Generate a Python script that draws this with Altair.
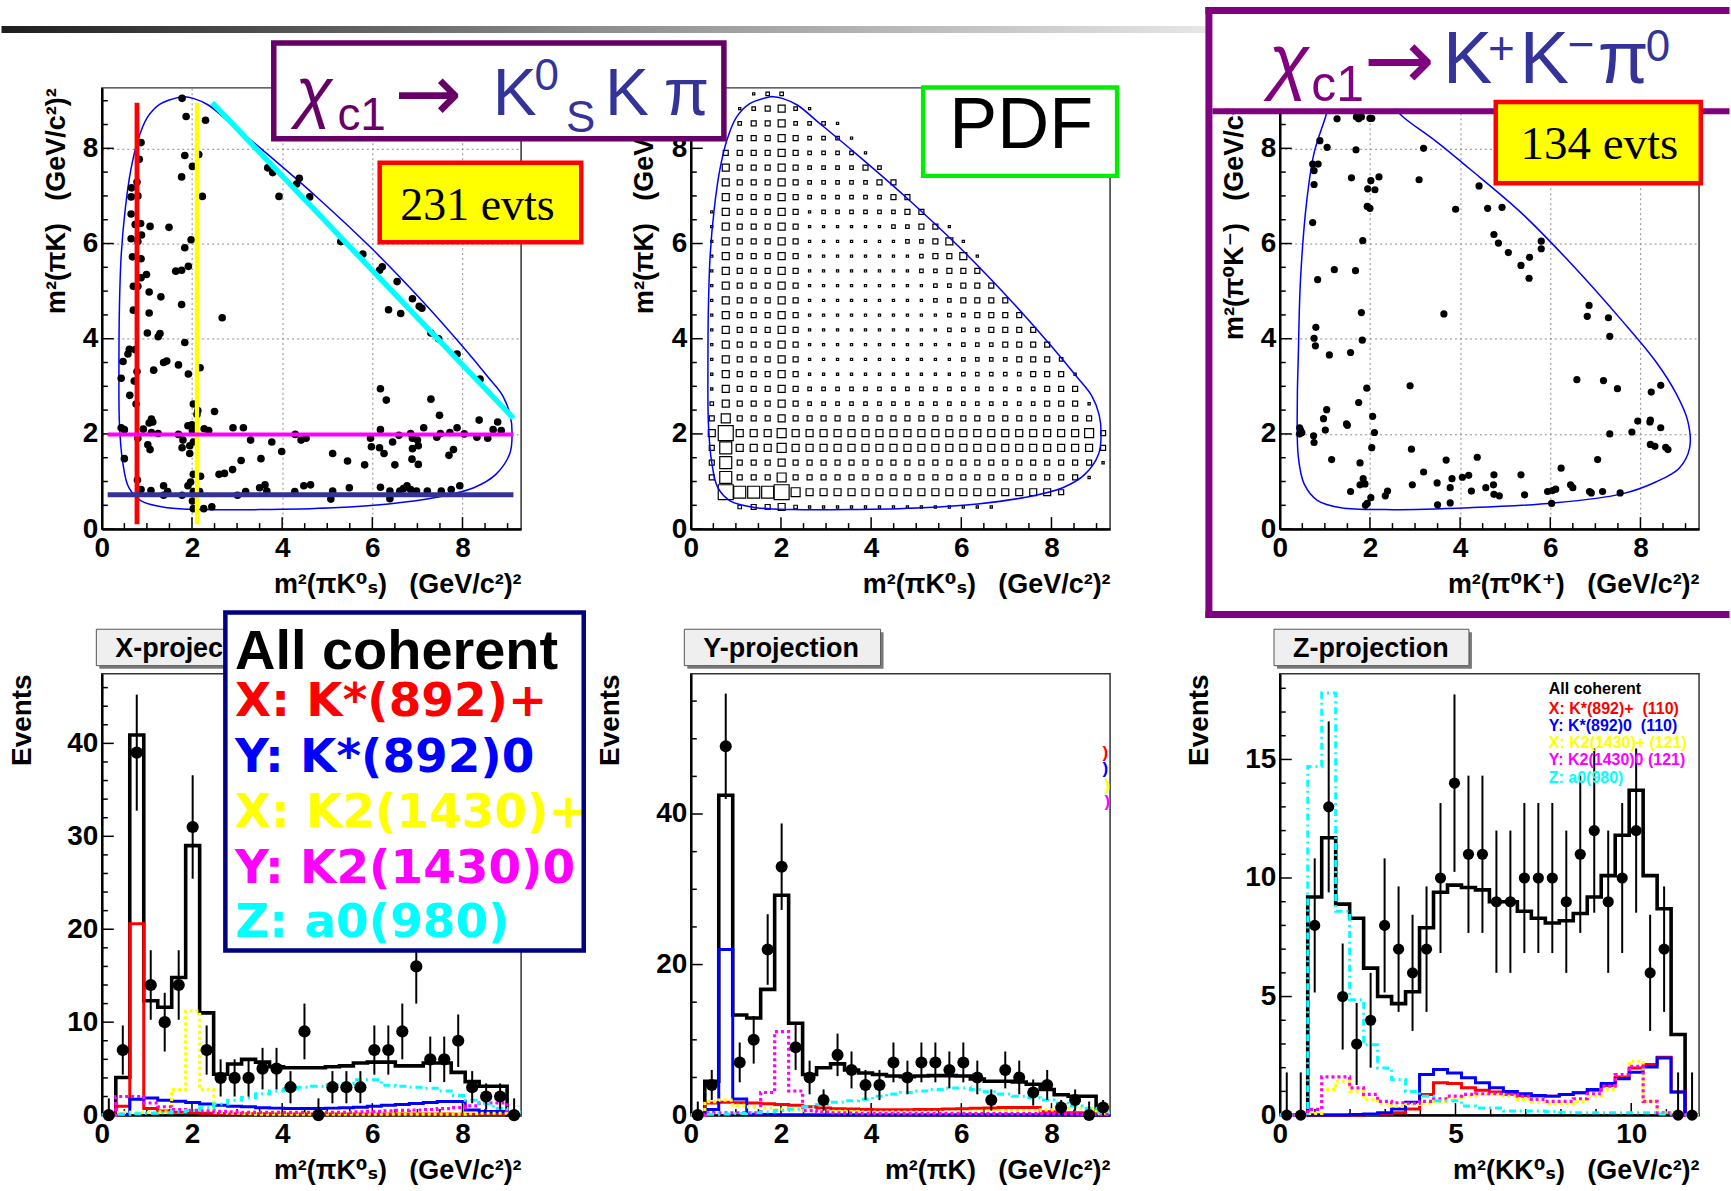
import altair as alt
import numpy as np
import pandas as pd

SANS = "Liberation Sans, DejaVu Sans, sans-serif"
WIDE = "DejaVu Sans, sans-serif"
SERIF = "Liberation Serif, serif"
NB2 = "\u00a0\u00a0\u00a0"   # wide gap kept inside axis titles

W, H = 420, 442        # plot area of every panel (px)
XY_MAX = 9.3           # m^2 range of the K pi combinations
Z_MAX = 11.93          # m^2 range of the K K combination
NB = 30                # bins per projection / PDF grid

# ---------------- chi_c1 -> K0S K pi : Dalitz-plot events ----------------
ks_events = [
    (1.78, 9.05), (1.87, 8.67), (2.30, 8.59), (0.87, 8.12), (0.83, 7.77), (1.84, 7.85), (2.15, 7.87),
    (2.01, 7.62), (1.77, 7.40), (2.23, 6.99), (0.78, 7.29), (0.66, 7.17), (0.65, 6.98), (0.80, 7.00),
    (0.65, 6.62), (0.74, 6.40), (0.86, 6.42), (1.07, 6.36), (1.49, 6.34), (0.65, 6.10), (0.88, 6.18),
    (0.80, 6.04), (1.98, 6.08), (1.84, 5.91), (0.68, 5.72), (0.87, 5.68), (0.99, 5.35), (0.87, 5.28),
    (0.80, 5.10), (0.70, 5.10), (1.64, 5.42), (1.77, 5.44), (1.92, 5.52), (1.05, 4.98), (1.31, 4.88),
    (1.77, 4.72), (0.70, 4.60), (1.05, 4.54), (2.67, 4.44), (1.01, 4.12), (1.29, 4.11), (1.25, 4.04),
    (1.84, 3.92), (0.47, 3.52), (0.58, 3.68), (0.61, 3.78), (0.74, 3.77), (1.37, 3.50), (1.44, 3.53),
    (1.70, 3.45), (1.15, 3.34), (0.78, 3.31), (1.92, 3.26), (2.18, 3.39), (0.43, 3.17), (0.72, 3.11),
    (0.62, 2.81), (0.76, 2.63), (2.03, 2.63), (2.13, 2.49), (2.11, 2.41), (2.50, 2.47), (6.18, 2.95),
    (6.31, 2.71), (7.30, 2.73), (7.49, 2.39), (8.37, 2.29), (8.78, 2.25),
    (0.43, 2.13), (0.50, 2.09), (1.10, 2.31), (1.13, 2.25), (1.05, 2.23), (0.92, 2.10), (0.80, 1.91),
    (1.10, 2.03), (1.25, 2.01), (1.70, 1.99), (1.91, 2.17), (2.00, 2.19), (2.01, 2.07), (2.27, 2.11),
    (2.37, 2.07), (2.91, 2.13), (3.14, 2.13), (3.30, 1.87), (3.77, 1.83), (4.29, 1.99), (4.42, 1.87),
    (4.53, 1.91), (5.96, 1.91), (5.98, 1.73), (6.18, 2.09), (6.16, 1.71), (6.26, 1.59), (6.45, 1.83),
    (6.59, 1.97), (6.85, 2.01), (6.89, 1.91), (7.00, 1.87), (6.89, 1.69), (7.02, 1.75), (7.14, 2.13),
    (7.43, 1.93), (7.51, 2.01), (7.72, 2.03), (7.88, 2.13), (7.80, 1.67), (7.70, 1.55), (8.04, 2.00),
    (8.32, 1.93), (8.56, 1.91), (8.68, 2.09), (8.86, 2.07),
    (1.78, 1.71), (1.95, 1.75), (1.95, 1.59), (2.03, 1.83), (1.80, 1.87), (0.50, 1.48), (1.07, 1.67),
    (1.02, 1.77), (3.09, 1.44), (3.53, 1.48), (3.99, 1.63), (5.12, 1.59), (5.45, 1.43), (5.83, 1.35),
    (6.50, 1.35), (6.88, 1.47), (7.02, 1.36), (2.60, 1.15), (2.72, 1.17), (2.90, 1.25), (2.03, 1.15),
    (2.19, 1.11),
    (0.79, 1.03), (0.87, 0.83), (1.09, 0.81), (1.37, 0.91), (1.37, 0.71), (1.46, 0.79), (1.78, 0.71),
    (1.91, 0.91), (1.97, 0.99), (2.03, 0.79), (2.17, 0.79), (2.01, 0.59), (2.03, 0.43), (2.26, 0.43),
    (2.44, 0.47), (3.01, 0.71), (3.19, 0.79), (3.50, 0.87), (3.62, 0.93), (3.66, 0.80), (4.28, 0.79),
    (4.48, 0.91), (4.63, 0.93), (5.12, 0.80), (5.08, 0.63), (5.49, 0.87), (6.18, 0.88), (6.39, 0.80),
    (6.39, 0.64), (6.61, 0.80), (6.69, 0.85), (6.77, 0.91), (6.85, 0.83), (6.98, 0.80), (7.22, 0.80),
    (7.53, 0.80), (7.75, 0.83), (7.94, 0.91),
    (3.68, 7.59), (3.79, 7.49), (3.93, 6.99), (4.32, 7.25), (4.38, 7.37), (4.61, 6.98), (5.30, 6.04),
    (5.79, 5.78), (6.16, 5.44), (6.22, 5.51), (6.55, 5.20), (6.36, 4.61), (6.63, 4.53), (6.89, 4.84),
    (7.04, 4.68), (7.10, 4.64), (7.30, 4.12), (7.47, 4.00), (7.88, 3.68), (8.39, 3.15),
]

# kinematic boundary of the K0S K pi Dalitz plot (closed contour)
ks_boundary = [
    (1.78, 9.09), (1.29, 8.93), (1.01, 8.65), (0.80, 8.17), (0.64, 7.53), (0.52, 6.73), (0.43, 5.76),
    (0.39, 4.64), (0.38, 3.43), (0.39, 2.23), (0.46, 1.43), (0.60, 0.87), (0.88, 0.59), (1.46, 0.45),
    (2.27, 0.41), (3.50, 0.41), (5.14, 0.45), (6.36, 0.53), (7.43, 0.67), (8.25, 0.87), (8.74, 1.15),
    (9.05, 1.59), (9.10, 1.99), (9.06, 2.39), (8.90, 2.79), (8.57, 3.19), (8.00, 3.84), (7.18, 4.72),
    (5.96, 5.92), (4.73, 7.01), (3.66, 7.89), (2.85, 8.53), (2.36, 8.91), (2.03, 9.05), (1.78, 9.09),
]

# resonance bands marked on the Dalitz plot: (x1, y1, x2, y2)
band_segments = [
    (0.78, 0.10, 0.78, 8.96),   # K*(892) in m2(pi K0S)
    (2.11, 0.10, 2.11, 8.96),   # K2(1430) in m2(pi K0S)
    (0.13, 1.99, 9.13, 1.99),   # K2(1430) in m2(pi K)
    (0.13, 0.72, 9.13, 0.72),   # K*(892) in m2(pi K)
    (2.45, 8.96, 9.13, 2.33),   # a0(980) diagonal
]
band_colors = ["#ff0000", "#ffff00", "#ff00ff", "#333399", "#00ffff"]
band_widths = [4.8, 4.3, 4.0, 5.0, 5.5]

# ---------------- fitted PDF on a 30 x 30 grid (box size level per cell) ----------------
# row j = 0 is the bottom row, character k is the column; "." = outside the PDF
pdf_rows = [
    "",
    "...2334" + "2" + "1" * 14,
    ".." + "76667" + "5" + "4" * 18 + "3",
    "." + "36333" + "5" + "3" * 21 + "1",
    "." + "36333" + "4" + "3" * 22 + "1",
    "." + "36444" + "5" + "4" * 22 + "3",
    "." + "4744454" + "4" * 20 + "53",
    "." + "35333" + "4" + "3" * 22,
    ".24333432" + "2" * 10 + "2222223331",
    ".14333432" + "2" * 10 + "2222223" + "33",
    ".14333431" + "1" * 10 + "2222233" + "31",
    ".14333431" + "1" * 10 + "222233" + "32",
    ".14333431" + "1" * 10 + "22233" + "33",
    ".14333431" + "1" * 9 + "222333" + "3",
    ".14333431" + "1" * 9 + "22333" + "3",
    ".14333431" + "1" * 8 + "22333" + "3",
    ".14333431" + "1" * 8 + "2233" + "3",
    ".14333431" + "1" * 7 + "2233" + "3",
    ".14333431" + "1" * 7 + "2334" + "1",
    ".14333431" + "1" * 6 + "22341",
    ".14333431" + "1" * 5 + "2233" + "1",
    ".14333431" + "222222" + "33",
    "..4333432" + "22222" + "33",
    "..4333432" + "2222" + "33",
    "..4333432" + "222" + "32",
    "..3333432" + "22" + "21",
    "...333432" + "22" + "1",
    "...233422" + "21",
    "...123421",
    "....122",
]
# side of the drawn box (px) for each PDF level
pdf_box_side = {1: 2.2, 2: 3.5, 3: 5.0, 4: 7.0, 5: 9.0, 6: 12.0, 7: 15.0}

# ---------------- chi_c1 -> K+ K- pi0 : Dalitz-plot events ----------------
kk_events = [
    (1.27, 8.62), (1.70, 8.66), (1.75, 8.62), (1.81, 8.66), (2.00, 8.63), (2.04, 8.63),
    (0.89, 8.16), (1.05, 8.02), (1.69, 7.97), (3.19, 8.00),
    (0.73, 7.67), (0.85, 7.67), (0.76, 7.53), (0.76, 7.24), (1.59, 7.38), (3.09, 7.34), (1.95, 7.15),
    (2.02, 7.32), (2.11, 7.13), (2.20, 7.40), (1.94, 6.78), (2.00, 6.74),
    (0.73, 6.44), (3.90, 6.72), (4.42, 7.21), (4.61, 6.74), (4.93, 6.76),
    (4.75, 6.19), (4.85, 6.01), (5.07, 5.81), (5.80, 6.05), (5.80, 5.89), (5.35, 5.54), (5.54, 5.71),
    (5.53, 5.27), (1.84, 6.06), (1.21, 5.45), (1.68, 5.43), (0.84, 5.24),
    (3.64, 4.52), (1.81, 4.55), (6.86, 4.70), (6.82, 4.47), (7.29, 4.44), (7.32, 4.05),
    (0.80, 4.24), (0.76, 4.01), (0.79, 3.85), (1.10, 3.66), (1.57, 3.71), (1.83, 3.97),
    (1.93, 2.96), (2.89, 3.01), (1.75, 2.66), (6.59, 3.14), (7.18, 3.12), (7.49, 2.95), (8.24, 2.88),
    (8.45, 3.02),
    (0.44, 2.13), (0.46, 2.08), (0.44, 2.00), (0.49, 2.03), (0.75, 1.96), (0.76, 1.82), (0.97, 2.32),
    (1.04, 2.51), (1.01, 2.08), (1.48, 2.21), (1.50, 2.18), (2.06, 2.37), (2.10, 2.03), (2.04, 1.71),
    (7.32, 2.00), (7.81, 2.04), (7.94, 2.27), (8.21, 2.25), (8.22, 2.29), (8.45, 2.13), (8.22, 1.78),
    (8.32, 1.74), (8.56, 1.72), (8.61, 1.67),
    (1.15, 1.46), (1.78, 1.39), (2.92, 1.68), (3.69, 1.45), (4.38, 1.51), (6.24, 1.28), (7.05, 1.46),
    (3.19, 1.20), (1.78, 0.93), (1.85, 1.06), (1.89, 0.95), (2.94, 0.93), (3.49, 0.97), (3.78, 0.87),
    (3.82, 1.06), (4.05, 1.09), (4.19, 1.13), (4.25, 0.80), (4.57, 0.87), (4.74, 0.93), (4.75, 1.14),
    (4.75, 0.73), (4.87, 0.70), (5.35, 1.14), (5.43, 0.72), (5.94, 0.79), (6.05, 0.81), (6.12, 0.84),
    (6.03, 0.54), (6.45, 0.93), (6.50, 0.87), (6.87, 0.79), (6.91, 0.76), (7.16, 0.79), (7.55, 0.76),
    (1.57, 0.79), (1.90, 0.50), (1.94, 0.54), (2.02, 0.66), (2.34, 0.70), (2.39, 0.80), (3.50, 0.51),
    (3.78, 0.55),
]

kk_boundary = [
    (1.80, 9.10), (1.10, 9.00), (1.03, 8.71), (0.76, 7.90), (0.60, 6.91), (0.46, 5.25), (0.41, 3.60),
    (0.39, 2.77), (0.41, 1.53), (0.54, 0.95), (0.84, 0.60), (1.36, 0.45), (2.34, 0.41), (4.21, 0.45),
    (6.09, 0.55), (7.59, 0.74), (8.34, 0.99), (8.86, 1.28), (9.09, 1.70), (9.05, 2.27), (8.79, 2.85),
    (8.34, 3.52), (7.59, 4.38), (6.46, 5.58), (5.34, 6.66), (4.21, 7.57), (3.46, 8.15), (2.71, 8.68),
    (2.40, 9.00), (1.80, 9.10),
]

# ---------------- projections: data counts, total fit and components per bin ----------------
xp_data = [0, 7, 39, 14, 10, 14, 31, 7, 4, 4, 4, 5, 5, 3, 9, 0, 3, 3, 3, 7, 7, 9, 16, 6, 6, 8, 3, 2, 2, 0]
xp_fit = [0, 4.05, 40.9, 12.3, 11.6, 14.8, 29.0, 11.0, 4.4, 5.5, 6.0, 5.7, 5.2, 5.1, 5.1,
          5.1, 5.2, 5.3, 5.6, 5.7, 5.7, 5.3, 5.3, 5.6, 5.6, 4.6, 3.6, 3.1, 3.1, 0]
xp_red = [0, 0.95, 20.6, 0.7, 0.45, 0.3, 0.25, 0.2, 0.18, 0.15, 0.15, 0.15, 0.12, 0.12, 0.12,
          0.12, 0.12, 0.12, 0.12, 0.12, 0.12, 0.12, 0.12, 0.12, 0.12, 0.1, 0.1, 0.1, 0.1, 0]
xp_blue = [0, 0.1, 1.7, 1.85, 1.6, 1.5, 1.35, 1.2, 1.05, 0.95, 0.9, 0.8, 0.75, 0.72, 0.72,
           0.72, 0.75, 0.8, 0.85, 0.95, 1.05, 1.15, 1.25, 1.35, 1.45, 1.45, 0.55, 0.4, 0.4, 0.05]
xp_yel = [0, 0.3, 0.3, 0.3, 0.35, 2.75, 11.2, 2.75, 0.3, 0.2, 0.15, 0.1, 0.1, 0.1, 0.1,
          0.1, 0.1, 0.1, 0.1, 0.1, 0.1, 0.1, 0.1, 0.1, 0.1, 0.1, 0.15, 0.2, 0.2, 0]
xp_mag = [0, 2.0, 2.0, 1.3, 0.9, 0.6, 0.5, 0.45, 0.4, 0.35, 0.3, 0.3, 0.3, 0.3, 0.3,
          0.3, 0.3, 0.3, 0.35, 0.4, 0.45, 0.5, 0.55, 0.6, 0.7, 0.8, 1.0, 1.3, 1.3, 0.25]
xp_cyan = [0, 0.1, 0.15, 0.2, 0.25, 0.35, 0.5, 0.8, 1.2, 1.6, 1.9, 2.3, 2.6, 2.8, 3.0,
           3.1, 3.3, 3.4, 3.8, 3.8, 3.2, 3.1, 3.0, 2.9, 2.6, 2.1, 1.6, 1.2, 0.7, 0.3]

yp_data = [0, 4, 49, 7, 10, 22, 33, 9, 5, 2, 8, 6, 4, 4, 7, 5, 7, 7, 6, 7, 5, 2, 6, 5, 3, 4, 1, 2, 0, 1]
yp_fit = [0, 4.5, 42.5, 13.3, 12.9, 16.7, 29.2, 12.2, 5.4, 6.3, 6.8, 6.0, 5.6, 5.4, 5.2,
          5.1, 5.2, 5.25, 5.25, 5.2, 4.8, 4.5, 4.5, 4.4, 4.1, 3.4, 2.7, 2.5, 2.5, 0]
yp_red = [0, 1.6, 1.7, 1.65, 1.6, 1.5, 1.4, 1.3, 1.1, 0.95, 0.85, 0.8, 0.75, 0.7, 0.7,
          0.7, 0.75, 0.75, 0.8, 0.85, 0.9, 0.95, 1.0, 1.0, 1.0, 0.45, 0.3, 0.3, 0.25, 0]
yp_blue = [0, 0.75, 22.0, 2.15, 0.1, 0.08, 0.06, 0.05, 0.05, 0.05, 0.05, 0.05, 0.05, 0.05, 0.05,
           0.05, 0.05, 0.05, 0.05, 0.05, 0.05, 0.05, 0.05, 0.05, 0.05, 0.05, 0.05, 0.05, 0.05, 0]
yp_yel = [0, 1.8, 2.0, 1.3, 1.1, 0.9, 0.8, 0.7, 0.6, 0.55, 0.5, 0.45, 0.4, 0.4, 0.4,
          0.4, 0.4, 0.4, 0.4, 0.45, 0.5, 0.5, 0.55, 0.55, 0.6, 0.7, 0.9, 0.9, 0.9, 0.2]
yp_mag = [0, 0.3, 0.3, 0.3, 0.3, 3.0, 11.1, 3.2, 0.6, 0.4, 0.3, 0.25, 0.2, 0.2, 0.2,
          0.2, 0.2, 0.2, 0.2, 0.2, 0.2, 0.2, 0.2, 0.2, 0.2, 0.2, 0.15, 0.15, 0.1, 0.1]
yp_cyan = [0, 0.1, 0.15, 0.2, 0.3, 0.4, 0.6, 0.8, 1.1, 1.4, 1.7, 1.9, 2.1, 2.5, 2.8,
           3.0, 3.2, 3.4, 3.6, 3.6, 3.4, 3.1, 2.8, 2.5, 2.3, 2.0, 1.6, 1.2, 0.9, 0.3]

zp_data = [0, 0, 8, 13, 5, 3, 4, 8, 7, 6, 7, 10, 14, 11, 11, 9, 9, 10, 10, 10, 9, 11, 12, 9, 10, 12, 6, 7, 0, 0]
zp_fit = [0, 0, 9.2, 11.7, 8.9, 8.3, 6.2, 5.0, 4.7, 5.2, 7.9, 9.4, 9.7, 9.6, 9.5,
          9.0, 9.0, 8.6, 8.3, 8.1, 8.2, 8.5, 9.2, 10.1, 11.8, 13.7, 10.1, 8.7, 3.4, 0]
zp_red = [0, 0, 0, 0, 0, 0, 0.02, 0.05, 0.1, 0.26, 0.87, 1.36, 1.33, 1.15, 1.05,
          0.97, 0.9, 0.83, 0.8, 0.8, 0.87, 0.94, 1.05, 1.25, 1.61, 1.99, 2.13, 2.44, 0.97, 0]
zp_blue = [0, 0, 0, 0, 0, 0.02, 0.05, 0.1, 0.26, 0.54, 1.71, 1.92, 1.78, 1.57, 1.36,
           1.15, 1.0, 0.9, 0.83, 0.8, 0.87, 0.94, 1.08, 1.33, 1.53, 1.81, 2.03, 2.41, 0.97, 0]
zp_yel = [0, 0, 0.07, 1.08, 1.43, 1.0, 0.66, 0.5, 0.38, 0.45, 0.5, 0.58, 0.72, 0.8, 0.87,
          0.87, 0.8, 0.66, 0.55, 0.49, 0.49, 0.58, 0.8, 1.08, 1.71, 2.27, 0.58, 0.1, 0, 0]
zp_mag = [0, 0, 0.24, 1.61, 1.61, 1.15, 0.87, 0.58, 0.52, 0.5, 0.58, 0.69, 0.8, 0.87, 0.9,
          0.9, 0.87, 0.8, 0.66, 0.58, 0.58, 0.69, 0.9, 1.22, 1.71, 2.06, 0.58, 0.1, 0, 0]
zp_cyan = [0, 0, 14.7, 17.8, 8.6, 4.87, 2.97, 1.99, 1.5, 1.0, 0.8, 0.6, 0.6, 0.38, 0.3,
           0.3, 0.17, 0.17, 0.17, 0.15, 0.12, 0.1, 0.1, 0.1, 0.1, 0.1, 0.1, 0.05, 0.05, 0]

legend_labels = ["All coherent", "X: K*(892)+", "Y: K*(892)0", "X: K2(1430)+", "Y: K2(1430)0", "Z: a0(980)"]
legend_labels_z = ["All coherent", "X: K*(892)+\u00a0\u00a0(110)", "Y: K*(892)0\u00a0\u00a0(110)",
                   "X: K2(1430)+ (121)", "Y: K2(1430)0 (121)", "Z: a0(980)"]
legend_colors = ["black", "#ff0000", "#0000ff", "#ffff00", "#ff00ff", "#00ffff"]

# =============================== helpers ===============================
ONE = pd.DataFrame({"i": [0]})


def scales(xmax, ymax):
    return (alt.Scale(domain=[0, xmax], nice=False, zero=False),
            alt.Scale(domain=[0, ymax], nice=False, zero=False))


def x_axis(title, values, grid=False):
    return alt.Axis(
        title=title, values=values, format="d", grid=grid, gridColor="#8c8c8c", gridDash=[2, 3],
        gridWidth=1, ticks=False, domainColor="black", domainWidth=2.5,
        labelFont=SANS, labelFontSize=28, labelFontWeight="bold", labelColor="black",
        labelPadding=5, labelFlush=False, labelOverlap=False,
        titleFont=SANS, titleFontSize=27, titleFontWeight="bold", titleColor="black",
        titleAlign="right", titleBaseline="alphabetic", titleX=W, titleY=64)


def y_axis(title, values, tx, grid=False, size=27):
    return alt.Axis(
        title=title, values=values, format="d", grid=grid, gridColor="#8c8c8c", gridDash=[2, 3],
        gridWidth=1, ticks=False, domainColor="black", domainWidth=2.5,
        labelFont=SANS, labelFontSize=28, labelFontWeight="bold", labelColor="black",
        labelPadding=4, labelOverlap=False,
        titleFont=SANS, titleFontSize=size, titleFontWeight="bold", titleColor="black",
        titleAngle=270, titleAlign="right", titleBaseline="middle", titleX=tx, titleY=0)


def tick_layers(xs, ys, xa, ya, xmaj, xmin, ymaj, ymin):
    out = []
    for vals, ln in ((xmaj, 12), (xmin, 6)):
        out.append(alt.Chart(pd.DataFrame({"v": vals})).mark_rule(color="black", strokeWidth=1.5).encode(
            x=alt.X("v:Q", scale=xs, axis=xa), y=alt.value(H), y2=alt.value(H - ln)))
    for vals, ln in ((ymaj, 12), (ymin, 6)):
        out.append(alt.Chart(pd.DataFrame({"v": vals})).mark_rule(color="black", strokeWidth=1.5).encode(
            y=alt.Y("v:Q", scale=ys, axis=ya), x=alt.value(0), x2=alt.value(ln)))
    return out


def steps_between(a, b, step, skip):
    return [round(v, 3) for v in np.arange(a, b + 1e-9, step) if all(abs(v - s) > 1e-6 for s in skip)]


def contour(points, xs, ys, xa, ya):
    df = pd.DataFrame({"x": [p[0] for p in points], "y": [p[1] for p in points],
                       "i": list(range(len(points)))})
    return alt.Chart(df).mark_line(color="#0000ff", strokeWidth=1.5, interpolate="catmull-rom").encode(
        x=alt.X("x:Q", scale=xs, axis=xa), y=alt.Y("y:Q", scale=ys, axis=ya), order="i:Q")


def scatter(points, xs, ys, xa, ya, size):
    df = pd.DataFrame({"x": [p[0] for p in points], "y": [p[1] for p in points]})
    return alt.Chart(df).mark_circle(color="black", opacity=1, size=size).encode(
        x=alt.X("x:Q", scale=xs, axis=xa), y=alt.Y("y:Q", scale=ys, axis=ya))


def step_hist(vals, width, xs, ys, xa, ya, color, sw, dash=None):
    df = pd.DataFrame({"e": np.arange(len(vals) + 1) * width, "v": list(vals) + [vals[-1]]})
    kw = dict(color=color, strokeWidth=sw, interpolate="step-after")
    if dash:
        kw["strokeDash"] = dash
    return alt.Chart(df).mark_line(**kw).encode(
        x=alt.X("e:Q", scale=xs, axis=xa), y=alt.Y("v:Q", scale=ys, axis=ya))


def data_points(counts, width, xs, ys, xa, ya, size):
    df = pd.DataFrame({"c": (np.arange(len(counts)) + 0.5) * width, "n": counts})
    x = alt.X("c:Q", scale=xs, axis=xa)
    err = alt.Chart(df).transform_calculate(
        lo="max(0, datum.n - sqrt(datum.n))",
        hi="datum.n > 0 ? datum.n + sqrt(datum.n) : 1.8",
    ).mark_rule(color="black", strokeWidth=2).encode(
        x=x, y=alt.Y("lo:Q", scale=ys, axis=ya), y2="hi:Q")
    dots = alt.Chart(df).mark_circle(color="black", opacity=1, size=size).encode(
        x=x, y=alt.Y("n:Q", scale=ys, axis=ya))
    return [err, dots]


def box(x1, y1, x2, y2, fill="white", stroke=None, sw=0, opacity=1):
    kw = dict(fill=fill, opacity=opacity)
    if stroke:
        kw.update(stroke=stroke, strokeWidth=sw)
    return alt.Chart(ONE).mark_rect(**kw).encode(
        x=alt.value(x1), x2=alt.value(x2), y=alt.value(y1), y2=alt.value(y2))


def txt(x, y, s, size, color="black", font=SANS, weight="normal", style="normal"):
    return alt.Chart(ONE).mark_text(text=s, fontSize=size, color=color, font=font, fontWeight=weight,
                                    fontStyle=style, align="left", baseline="alphabetic").encode(
        x=alt.value(x), y=alt.value(y))


def pave(x1, y1, x2, y2, label):
    # ROOT-style title pave with a drop shadow
    return [box(x1 + 3, y1 + 3, x2 + 3, y2 + 3, fill="#7a7a7a"),
            box(x1, y1, x2, y2, fill="#efefef", stroke="#555555", sw=1),
            txt(x1 + 19, y2 - 8.3, label, 27, weight="bold")]


def components(series, width, xs, ys, xa, ya):
    fit, red, blue, yel, mag, cyan = series
    return [step_hist(fit, width, xs, ys, xa, ya, "black", 3.6),
            step_hist(red, width, xs, ys, xa, ya, "#ff0000", 3),
            step_hist(blue, width, xs, ys, xa, ya, "#0000ff", 3),
            step_hist(yel, width, xs, ys, xa, ya, "#ffff00", 3.2, [3, 3]),
            step_hist(mag, width, xs, ys, xa, ya, "#ff00ff", 3.2, [3, 3]),
            step_hist(cyan, width, xs, ys, xa, ya, "#00ffff", 3, [7, 4, 2, 4])]


BIN_XY = XY_MAX / NB
BIN_Z = Z_MAX / NB
DALITZ_YMAX = 9.27
xy_major = [0, 2, 4, 6, 8]
xy_minor = steps_between(0.5, 9.0, 0.5, xy_major)

T_KSPI = "m²(πK⁰ₛ)" + NB2 + "(GeV/c²)²"
T_PIK = "m²(πK)" + NB2 + "(GeV/c²)²"

# =============================== panel 1: K0S K pi events ===============================
xs1, ys1 = scales(XY_MAX, DALITZ_YMAX)
xa1 = x_axis(T_KSPI, xy_major, grid=True)
ya1 = y_axis(T_PIK, xy_major, -45, grid=True)

band_layers = []
for (bx1, by1, bx2, by2), col, bw in zip(band_segments, band_colors, band_widths):
    seg = pd.DataFrame({"x": [bx1], "y": [by1], "x2": [bx2], "y2": [by2]})
    band_layers.append(alt.Chart(seg).mark_rule(color=col, strokeWidth=bw).encode(
        x=alt.X("x:Q", scale=xs1, axis=xa1), y=alt.Y("y:Q", scale=ys1, axis=ya1),
        x2="x2:Q", y2="y2:Q"))

banner = alt.Chart(ONE).mark_rect(fill=alt.LinearGradient(
    gradient="linear", x1=0, x2=1, y1=0, y2=0,
    stops=[alt.GradientStop(offset=0, color="#1e1e1e"), alt.GradientStop(offset=0.47, color="#888888"),
           alt.GradientStop(offset=1, color="#e6e6e6")])).encode(
    x=alt.value(-100.5), x2=alt.value(1105.5), y=alt.value(-62), y2=alt.value(-55))

p1 = alt.layer(
    box(-100.5, -86, 1630.5, 1096, fill="white", opacity=0),
    banner,
    *tick_layers(xs1, ys1, xa1, ya1, xy_major, xy_minor, xy_major, xy_minor),
    contour(ks_boundary, xs1, ys1, xa1, ya1),
    scatter(ks_events, xs1, ys1, xa1, ya1, 58),
    *band_layers,
    box(278.35, 75.05, 480.25, 154.75, fill="#ffff00", stroke="#ff0000", sw=4.5),
    txt(299, 132, "231 evts", 46, font=SERIF),
).properties(width=W, height=H)

# =============================== panel 2: fitted PDF ===============================
xs2, ys2 = scales(XY_MAX, DALITZ_YMAX)
xa2 = x_axis(T_KSPI, xy_major)
ya2 = y_axis(T_PIK, xy_major, -46.5)

cells = []
for j, row in enumerate(pdf_rows):
    for k, ch in enumerate(row[:NB]):
        if ch != ".":
            side = pdf_box_side[int(ch)]
            cells.append({"x": (k + 0.5) * BIN_XY, "y": (j + 0.5) * BIN_XY, "area": side * side})
pdf_cells = pd.DataFrame(cells)

pdf_boxes = alt.Chart(pdf_cells).mark_point(shape="square", filled=False, color="black",
                                            strokeWidth=1.2, opacity=1).encode(
    x=alt.X("x:Q", scale=xs2, axis=xa2), y=alt.Y("y:Q", scale=ys2, axis=ya2),
    size=alt.Size("area:Q", scale=None, legend=None))

P1C, KB = "#660066", "#333399"
p2 = alt.layer(
    *tick_layers(xs2, ys2, xa2, ya2, xy_major, xy_minor, xy_major, xy_minor),
    pdf_boxes,
    contour(ks_boundary, xs2, ys2, xa2, ya2),
    # decay title of the K0S K pi channel
    box(-417.75, -44.95, 33.15, 50.95, fill="white", stroke=P1C, sw=5.5),
    txt(-396, 27, "χ", 68, color=P1C, style="italic"),
    txt(-354, 42, "c1", 46, color=P1C),
    txt(-297, 33, "→", 81, color=P1C, font=WIDE),
    txt(-198.5, 27, "K", 66, color=KB),
    txt(-156.5, 2, "0", 44, color=KB),
    txt(-125, 44, "S", 44, color=KB),
    txt(-86, 27, "K", 66, color=KB),
    txt(-27, 27, "π", 66, color=KB),
    box(232.75, -0.35, 427.05, 88.15, fill="white", stroke="#00ee00", sw=4.5),
    txt(259, 60, "PDF", 72),
).properties(width=W, height=H)

# =============================== panel 3: K+ K- pi0 events ===============================
xs3, ys3 = scales(XY_MAX, DALITZ_YMAX)
xa3 = x_axis("m²(π⁰K⁺)" + NB2 + "(GeV/c²)²", xy_major, grid=True)
ya3 = y_axis("m²(π⁰K⁻)" + NB2 + "(GeV/c²)²", xy_major, -45, grid=True)

PUR = "#800080"
p3 = alt.layer(
    *tick_layers(xs3, ys3, xa3, ya3, xy_major, xy_minor, xy_major, xy_minor),
    contour(kk_boundary, xs3, ys3, xa3, ya3),
    scatter(kk_events, xs3, ys3, xa3, ya3, 52),
    # framed title block of the K+ K- pi0 channel
    box(-67.5, -74, 450.5, 21, fill="white"),
    box(-74.5, -81, 450.5, -74, fill=PUR),
    box(-74.5, -81, -67.5, 531, fill=PUR),
    box(-74.5, 524, 450.5, 531, fill=PUR),
    box(-67.5, 20.5, 450.5, 26.5, fill=PUR),
    txt(-11, -2, "χ", 74, color=PUR, style="italic"),
    txt(31.5, 13, "c1", 50, color=PUR),
    txt(84, 1, "→", 85, color=PUR, font=WIDE),
    txt(163.5, -5, "K", 74, color=KB),
    txt(208.5, -24, "+", 46, color=KB),
    txt(240.5, -5, "K", 74, color=KB),
    txt(288.5, -27.5, "−", 46, color=KB),
    txt(318.5, -5, "π", 74, color=KB),
    txt(366.5, -26.7, "0", 44, color=KB),
    box(216.35, 14.25, 421.75, 95.65, fill="#ffff00", stroke="#ff0000", sw=4.5),
    txt(241.2, 71.4, "134 evts", 47, font=SERIF),
).properties(width=W, height=H)

# =============================== panel 4: X projection ===============================
xs4, ys4 = scales(XY_MAX, 47.48)
xa4 = x_axis(T_KSPI, xy_major)
ya4 = y_axis("Events", [0, 10, 20, 30, 40], -79.5, size=28)

legend_base = [-5.2, 42, 98.5, 153, 209.7, 264]
legend_texts = []
for lab, col, yb in zip(legend_labels, legend_colors, legend_base):
    if lab == "All coherent":
        legend_texts.append(txt(133.5, yb, lab, 56, color=col, weight="bold"))
    else:
        legend_texts.append(txt(133.5, yb, lab, 47, color=col, font=WIDE, weight="bold"))

p4 = alt.layer(
    *tick_layers(xs4, ys4, xa4, ya4, [0, 2, 4, 6, 8], xy_minor,
                 [0, 10, 20, 30, 40], steps_between(2, 46, 2, [10, 20, 30, 40])),
    *components([xp_fit, xp_red, xp_blue, xp_yel, xp_mag, xp_cyan], BIN_XY, xs4, ys4, xa4, ya4),
    *data_points(xp_data, BIN_XY, xs4, ys4, xa4, ya4, 150),
    *pave(-5.5, -44.7, 191.1, -8.2, "X-projection"),
    box(123.75, -61.35, 482.75, 277.15, fill="white"),
    *legend_texts,
    box(485, -68, 524.5, 282, fill="white"),
    box(123.75, -61.35, 482.75, 277.15, fill="transparent", stroke="#000080", sw=4.5),
).properties(width=W, height=H)

# =============================== panel 5: Y projection ===============================
xs5, ys5 = scales(XY_MAX, 58.62)
xa5 = x_axis(T_PIK, xy_major)
ya5 = y_axis("Events", [0, 20, 40], -80.5, size=28)

p5 = alt.layer(
    *tick_layers(xs5, ys5, xa5, ya5, [0, 2, 4, 6, 8], xy_minor,
                 [0, 20, 40], steps_between(5, 55, 5, [20, 40])),
    *components([yp_fit, yp_red, yp_blue, yp_yel, yp_mag, yp_cyan], BIN_XY, xs5, ys5, xa5, ya5),
    *data_points(yp_data, BIN_XY, xs5, ys5, xa5, ya5, 145),
    *pave(-6.5, -44.7, 190.1, -8.2, "Y-projection"),
    txt(412.5, 84, ")", 17, color="#ff0000", weight="bold"),
    txt(412.5, 100, ")", 17, color="#0000ff", weight="bold"),
    txt(414.5, 117, ")", 17, color="#ffff00", weight="bold"),
    txt(414.5, 133, ")", 17, color="#ff00ff", weight="bold"),
).properties(width=W, height=H)

# =============================== panel 6: Z projection ===============================
xs6, ys6 = scales(Z_MAX, 18.61)
xa6 = x_axis("m²(KK⁰ₛ)" + NB2 + "(GeV/c²)²", [0, 5, 10])
ya6 = y_axis("Events", [0, 5, 10, 15], -80.5, size=28)

z_legend_base = [20.5, 40, 57, 74.7, 91.7, 109.8]
z_legend = [txt(269.5, yb, lab, 16, color=col, weight="bold")
            for lab, col, yb in zip(legend_labels_z, legend_colors, z_legend_base)]

p6 = alt.layer(
    *tick_layers(xs6, ys6, xa6, ya6, [0, 5, 10], steps_between(1, 11, 1, [5, 10]),
                 [0, 5, 10, 15], steps_between(1, 18, 1, [5, 10, 15])),
    *components([zp_fit, zp_red, zp_blue, zp_yel, zp_mag, zp_cyan], BIN_Z, xs6, ys6, xa6, ya6),
    *data_points(zp_data, BIN_Z, xs6, ys6, xa6, ya6, 125),
    *pave(-5.8, -44.7, 189.5, -8.2, "Z-projection"),
    *z_legend,
).properties(width=W, height=H)

chart = alt.ConcatChart(
    concat=[p1, p2, p3, p4, p5, p6], columns=3,
    spacing={"row": 145, "column": 170}, bounds="flush", padding=0,
).configure_view(stroke="#333333", strokeWidth=1.5)

chart.save("out.html", embed_options={"renderer": "svg", "actions": False})
